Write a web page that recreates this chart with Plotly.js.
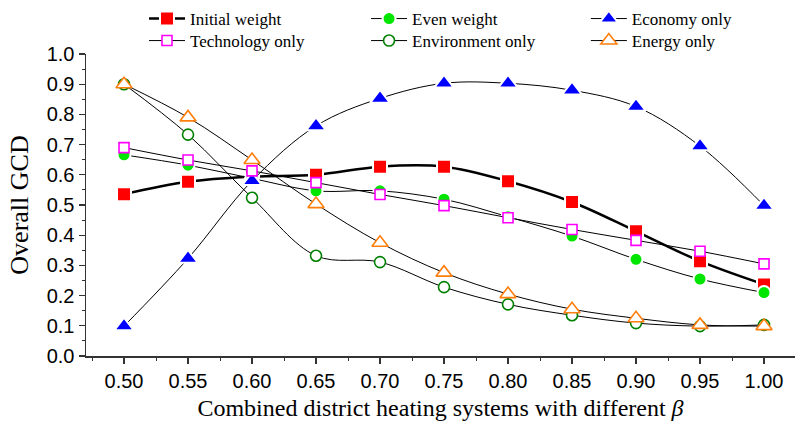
<!DOCTYPE html>
<html>
<head>
<meta charset="utf-8">
<script src="https://cdn.plot.ly/plotly-3.0.1.min.js"></script>
<style>html,body{margin:0;padding:0;background:#fff;}#chart{width:795px;height:423px;}</style>
</head>
<body>
<div id="chart"></div>
<script>
// Data
const beta = [0.50, 0.55, 0.60, 0.65, 0.70, 0.75, 0.80, 0.85, 0.90, 0.95, 1.00];
const initialWeight = [0.536, 0.577, 0.594, 0.600, 0.627, 0.627, 0.579, 0.510, 0.413, 0.314, 0.237];
const evenWeight    = [0.666, 0.632, 0.588, 0.547, 0.547, 0.519, 0.461, 0.397, 0.320, 0.255, 0.210];
const economyOnly   = [0.099, 0.323, 0.580, 0.762, 0.853, 0.903, 0.903, 0.880, 0.826, 0.695, 0.498];
const technologyOnly= [0.690, 0.649, 0.613, 0.574, 0.535, 0.498, 0.458, 0.419, 0.383, 0.347, 0.305];
const environmentOnly=[0.900, 0.733, 0.524, 0.332, 0.311, 0.228, 0.171, 0.135, 0.109, 0.099, 0.103];
const energyOnly    = [0.900, 0.790, 0.649, 0.503, 0.375, 0.276, 0.205, 0.155, 0.125, 0.103, 0.099];
const seriesNames = ['Initial weight','Even weight','Economy only','Technology only','Environment only','Energy only'];
const xTicks = [0.50,0.55,0.60,0.65,0.70,0.75,0.80,0.85,0.90,0.95,1.00];
const yTicks = [0.0,0.1,0.2,0.3,0.4,0.5,0.6,0.7,0.8,0.9,1.0];

const serif = '"Liberation Serif", "Times New Roman", serif';

function tr(y, name, lineW, marker, legend) {
  return {
    x: beta, y: y, name: name, type: 'scatter', mode: 'lines+markers',
    line: {color: '#000', width: lineW, shape: 'spline', smoothing: 1},
    marker: marker, legend: legend, hoverinfo: 'skip'
  };
}

const traces = [
  tr(initialWeight, seriesNames[0], 2.5, {symbol: 'square', size: 14, color: '#ff0000', line: {color: '#fff', width: 2}}, 'legend'),
  tr(evenWeight, seriesNames[1], 1, {symbol: 'circle', size: 13, color: '#00e600', line: {color: '#fff', width: 2}}, 'legend2'),
  tr(economyOnly, seriesNames[2], 1, {symbol: 'triangle-up', size: 17, color: '#0000ff', line: {color: '#fff', width: 2}}, 'legend3'),
  tr(technologyOnly, seriesNames[3], 1, {symbol: 'square', size: 10, color: '#fff', line: {color: '#ff00ff', width: 1.6}}, 'legend4'),
  tr(environmentOnly, seriesNames[4], 1, {symbol: 'circle', size: 11, color: '#fff', line: {color: '#008000', width: 1.6}}, 'legend5'),
  tr(energyOnly, seriesNames[5], 1, {symbol: 'triangle-up', size: 14, color: '#fff', line: {color: '#ff7f0e', width: 1.6}}, 'legend6')
];

function leg(x, y) {
  return {x: x, y: y, xanchor: 'left', yanchor: 'middle', orientation: 'v',
    font: {family: serif, size: 17, color: '#000'}, bgcolor: 'rgba(0,0,0,0)', itemwidth: 36};
}

const axisColor = '#333';
const tickFont = {family: '"Liberation Sans", Arial, sans-serif', size: 20, color: '#000'};
const xr = [0.4703, 1.0242];
const row1 = 1.1159, row2 = 1.043;
const col1 = 0.0818, col2 = 0.395, col3 = 0.705;

const layout = {
  width: 795, height: 423,
  margin: {l: 86, r: 0, t: 54, b: 67},
  paper_bgcolor: '#fff', plot_bgcolor: '#fff',
  font: {family: serif, size: 17, color: '#000'},
  showlegend: true,
  legend: leg(col1, row1),
  legend2: leg(col2, row1),
  legend3: leg(col3, row1),
  legend4: leg(col1, row2),
  legend5: leg(col2, row2),
  legend6: leg(col3, row2),
  xaxis: {
    range: xr, tickvals: xTicks, ticktext: xTicks.map(v => v.toFixed(2)),
    ticks: 'outside', ticklen: 6, tickwidth: 1.3, tickcolor: axisColor,
    minor: {dtick: 0.025, tick0: 0.5, ticks: 'outside', ticklen: 3, tickwidth: 1, tickcolor: axisColor, showgrid: false},
    showline: true, linecolor: axisColor, linewidth: 1.5, mirror: false,
    showgrid: false, zeroline: false, tickfont: tickFont,
    title: {text: 'Combined district heating systems with different <i>β</i>', font: {family: serif, size: 24, color: '#000'}, standoff: 8},
    automargin: false
  },
  xaxis2: {
    overlaying: 'x', side: 'top', anchor: 'y', range: xr, tickvals: xTicks,
    ticks: 'inside', ticklen: 5, tickwidth: 1.3, tickcolor: axisColor,
    showticklabels: false, showline: true, linecolor: axisColor, linewidth: 1.5,
    showgrid: false, zeroline: false
  },
  yaxis: {
    range: [0, 1], tickvals: yTicks, ticktext: yTicks.map(v => v.toFixed(1)),
    ticks: 'outside', ticklen: 6, tickwidth: 1.3, tickcolor: axisColor,
    minor: {dtick: 0.05, tick0: 0, ticks: 'outside', ticklen: 3, tickwidth: 1, tickcolor: axisColor, showgrid: false},
    showline: true, linecolor: axisColor, linewidth: 1.5, mirror: false,
    showgrid: false, zeroline: false, tickfont: tickFont,
    title: {text: 'Overall GCD', font: {family: serif, size: 26, color: '#000'}, standoff: 10},
    automargin: false
  }
};

Plotly.newPlot('chart', traces, layout, {displayModeBar: false, staticPlot: true});
</script>
</body>
</html>
